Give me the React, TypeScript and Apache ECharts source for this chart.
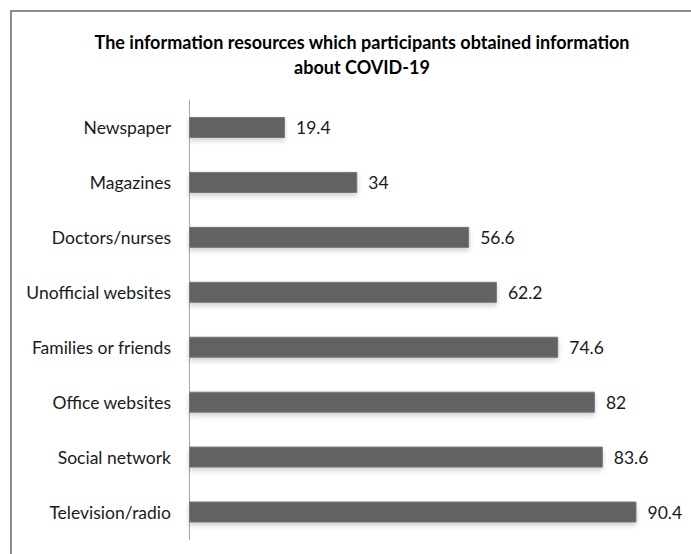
import React, { useEffect, useRef } from "react";
import * as echarts from "echarts";

const categories = [
  "Television/radio",
  "Social network",
  "Office websites",
  "Families or friends",
  "Unofficial websites",
  "Doctors/nurses",
  "Magazines",
  "Newspaper",
];
const values = [90.4, 83.6, 82, 74.6, 62.2, 56.6, 34, 19.4];
const titleText = "The information resources which participants obtained information\nabout COVID-19";

export default function App() {
  const ref = useRef<HTMLDivElement>(null);
  useEffect(() => {
    document.body.style.margin = "0";
    const chart = echarts.init(ref.current!, undefined, { renderer: "svg" });
    const font = "Lato, 'Open Sans', sans-serif";
    chart.setOption({
      animation: false,
      backgroundColor: "#ffffff",
      title: {
        text: titleText,
        left: 357,
        top: 24,
        textAlign: "center",
        textStyle: {
          fontFamily: font,
          fontWeight: "bold",
          fontSize: 18,
          lineHeight: 25,
          color: "#000000",
        },
      },
      graphic: [
        {
          type: "rect",
          shape: { x: 11, y: 11, width: 720, height: 600 },
          style: { fill: "none", stroke: "#8c8c8c", lineWidth: 2 },
          silent: true,
        },
      ],
      grid: { left: 189, right: 7, top: 100, bottom: 14.5 },
      xAxis: {
        type: "value",
        min: 0,
        max: 100,
        show: false,
      },
      yAxis: {
        type: "category",
        data: categories,
        axisLine: { show: true, lineStyle: { color: "#a6a6a6", width: 1 } },
        axisTick: { show: false },
        axisLabel: {
          fontFamily: font,
          fontSize: 17.5,
          color: "#1a1a1a",
          margin: 18,
        },
      },
      series: [
        {
          type: "bar",
          data: values,
          barWidth: 21,
          itemStyle: {
            color: "#626262",
            borderColor: "#777777",
            borderWidth: 1,
            shadowColor: "rgba(0,0,0,0.18)",
            shadowBlur: 5,
            shadowOffsetY: 3,
          },
          label: {
            show: true,
            position: "right",
            distance: 11,
            fontFamily: font,
            fontSize: 17.5,
            color: "#1a1a1a",
          },
        },
      ],
    });
    return () => chart.dispose();
  }, []);
  return <div ref={ref} style={{ width: 691, height: 554 }} />;
}
